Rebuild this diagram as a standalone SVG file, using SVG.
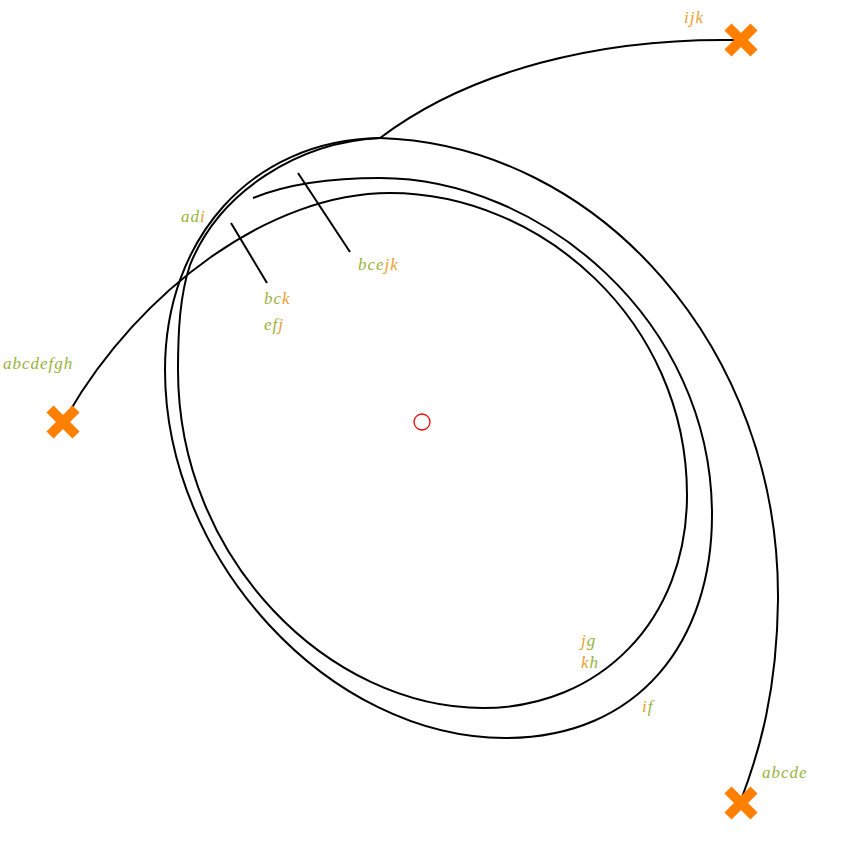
<svg xmlns="http://www.w3.org/2000/svg" width="844" height="844" viewBox="0 0 844 844">
<style>
.c{fill:none;stroke:#000;stroke-width:2}
.x{stroke:#ff7f00;stroke-width:10}
text{font-family:"Liberation Serif",serif;font-style:italic;font-size:17px;letter-spacing:1px}
.g{fill:#99b33c}.o{fill:#e8a030}
</style>
<rect width="844" height="844" fill="#fff"/>
<g id="connectors">
<path class="c" d="M735,40 C600,38 470,70 380,138"/>
<path class="c" d="M380,138 C600,145 780,350 778,600 C777,690 760,750 741,800"/>
<path class="c" d="M380,138 C250,140 165,240 165,370 C165,560 330,738 505,738 C640,738 712,640 712,515 C712,320 540,178 380,178 C330,178 285,185 253,198"/>
<path class="c" d="M380,138 C300,142 220,190 190,265 C180,295 178,330 178,370 C178,560 330,708 483,708 C600,708 687,620 687,495 C687,320 540,193 390,193 C270,193 140,290 68,414"/>
<path class="c" d="M298,173 L350,252"/>
<path class="c" d="M231,223 L267,283"/>
</g>
<g id="center"><circle cx="422" cy="422" r="8" fill="none" stroke="#e00" stroke-width="1.3"/></g>
<g id="n-ijk"><path class="x" d="M728,27 L754,53 M754,27 L728,53"/><text x="684" y="23"><tspan class="o">ijk</tspan></text></g>
<g id="n-abcdefgh"><path class="x" d="M50,409 L76,435 M76,409 L50,435"/><text x="3" y="369" class="g">abcdefgh</text></g>
<g id="n-abcde"><path class="x" d="M728,790 L754,816 M754,790 L728,816"/><text x="762" y="778" class="g">abcde</text></g>
<g id="labels">
<text x="181" y="222"><tspan class="g">ad</tspan><tspan class="o">i</tspan></text>
<text x="358" y="270"><tspan class="g">bce</tspan><tspan class="o">jk</tspan></text>
<text x="264" y="304"><tspan class="g">bc</tspan><tspan class="o">k</tspan></text>
<text x="264" y="330"><tspan class="g">ef</tspan><tspan class="o">j</tspan></text>
<text x="581" y="646"><tspan class="o">j</tspan><tspan class="g">g</tspan></text>
<text x="581" y="668"><tspan class="o">k</tspan><tspan class="g">h</tspan></text>
<text x="642" y="712"><tspan class="o">i</tspan><tspan class="g">f</tspan></text>
</g>
</svg>
